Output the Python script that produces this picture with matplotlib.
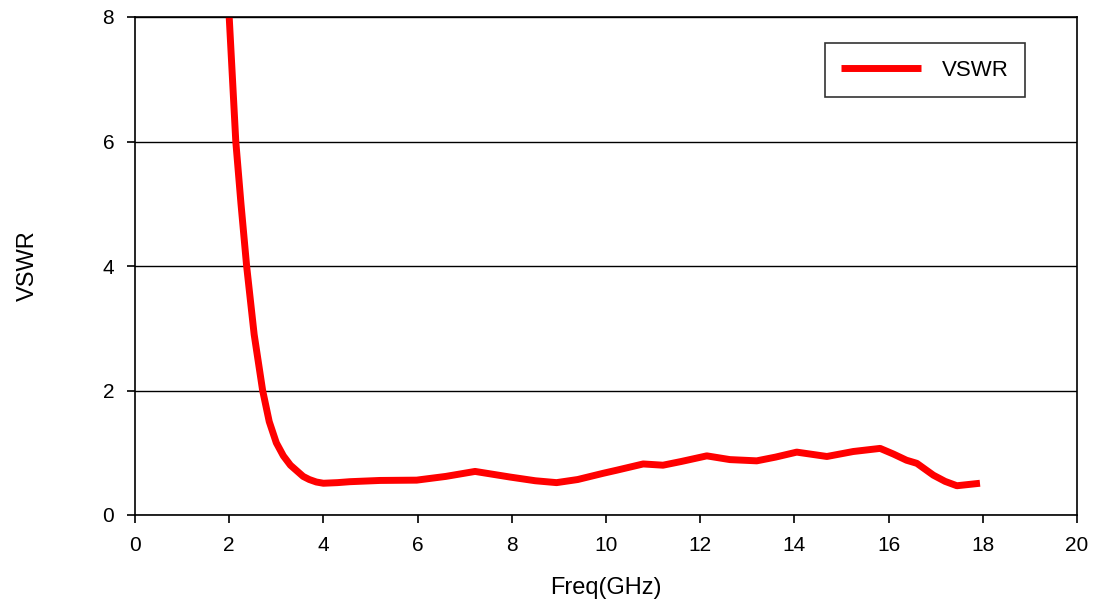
import matplotlib.pyplot as plt

plt.rcParams['font.family'] = ['Liberation Sans', 'DejaVu Sans']

# VSWR readings (frequency in GHz)
freq = [2.0, 2.07, 2.14, 2.25, 2.37, 2.53, 2.71, 2.85, 3.0, 3.15, 3.3, 3.45, 3.57, 3.7,
        3.85, 4.0, 4.3, 4.56, 5.2, 5.98, 6.6, 7.22, 7.96, 8.5, 8.95, 9.4, 9.94,
        10.23, 10.79, 11.21, 11.6, 12.14, 12.63, 13.2, 13.6, 14.05, 14.69, 15.25,
        15.82, 16.1, 16.38, 16.6, 16.95, 17.2, 17.45, 17.94]
vswr = [8.0, 7.0, 6.0, 5.0, 4.0, 2.9, 2.0, 1.5, 1.16, 0.95, 0.8, 0.7, 0.62, 0.57,
        0.53, 0.51, 0.52, 0.535, 0.555, 0.56, 0.62, 0.70, 0.61, 0.55, 0.52, 0.57,
        0.67, 0.72, 0.82, 0.80, 0.86, 0.95, 0.89, 0.87, 0.93, 1.01, 0.94, 1.02,
        1.07, 0.98, 0.88, 0.83, 0.64, 0.54, 0.47, 0.51]

xticks = list(range(0, 21, 2))
yticks = [0, 2, 4, 6, 8]

fig = plt.figure(figsize=(10.95, 6.04), dpi=100)
ax = fig.add_axes([135/1095, 1 - 515/604, (1077-135)/1095, (515-17)/604])

ax.plot(freq, vswr, color='#ff0000', linewidth=5.0, label='VSWR',
        solid_capstyle='butt', solid_joinstyle='round')

ax.set_xlim(0, 20)
ax.set_ylim(0, 8)
ax.set_xticks(xticks)
ax.set_yticks(yticks)
ax.yaxis.grid(True, color='black', linewidth=1.0)
ax.set_axisbelow(True)
for s in ax.spines.values():
    s.set_color('black')
    s.set_linewidth(1.2)
ax.tick_params(direction='out', length=6, width=1.2, labelsize=15, pad=9)

ax.set_xlabel('Freq(GHz)', fontsize=17, labelpad=16)
ax.set_ylabel('VSWR', fontsize=17, labelpad=46)

leg = ax.legend(loc='upper right', bbox_to_anchor=((1025-135)/942, (515-43)/498),
                fontsize=16, frameon=True, fancybox=False, handlelength=3.6,
                borderpad=0.75, handletextpad=0.9, borderaxespad=0)
leg.get_frame().set_edgecolor('black')
leg.get_frame().set_linewidth(1.2)

fig.savefig('out.png', dpi=100)
